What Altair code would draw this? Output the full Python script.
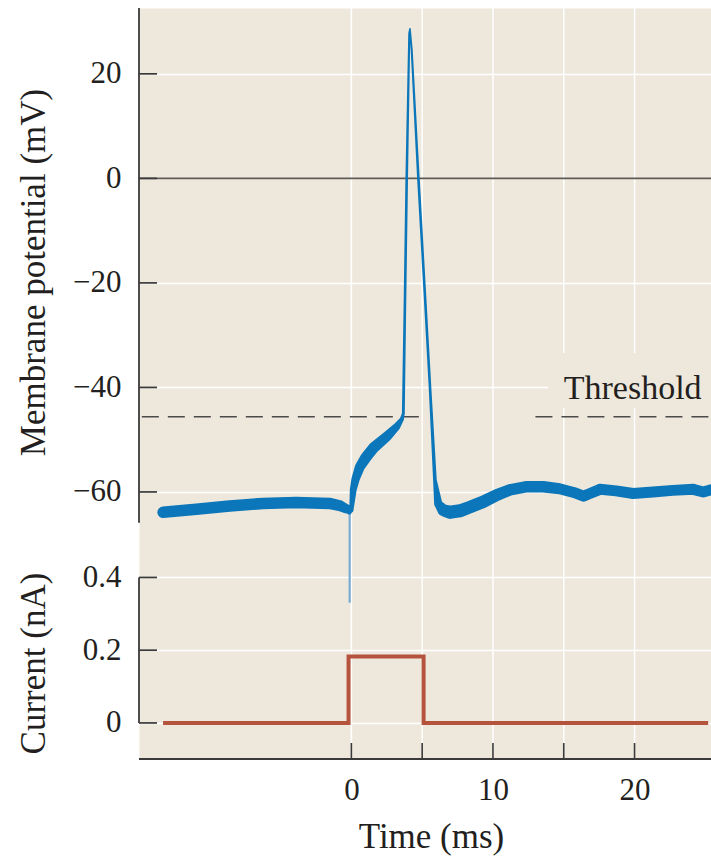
import altair as alt
import pandas as pd

# ---------------- data ----------------
# Membrane potential: time (ms), potential (mV), spread of superimposed sweeps (mV)
trace_t = [-13.3, -10.95, -8.6, -6.25, -3.9, -1.55, -0.84, -0.37, -0.15, 0.0,
           0.13, 0.3, 0.6, 1.0, 1.55, 2.5, 3.2, 3.56, 3.67,
           3.79, 3.91, 4.09, 4.14, 4.26, 4.73, 5.2, 5.55, 5.9,
           6.14, 6.5, 6.96, 7.67, 8.37, 9.3, 10.26, 11.2, 12.4, 13.55, 14.7, 15.7,
           16.4, 16.85, 17.56, 18.7, 19.9, 21.3, 22.7, 24.15, 24.85, 25.4]
trace_mv = [-63.9, -63.3, -62.7, -62.2, -62.0, -62.2, -62.6, -63.2, -63.8, -63.5,
            -59.6, -57.5, -55.2, -53.5, -51.6, -49.4, -47.5, -46.1, -45.0,
            -22.6, 0.2, 27.8, 28.6, 24.6, 0.2, -22.6, -39.8, -57.7,
            -62.3, -63.5, -63.9, -63.6, -62.9, -61.9, -60.6, -59.6, -59.0, -59.0, -59.4, -60.1,
            -60.8, -60.3, -59.5, -59.8, -60.3, -60.0, -59.7, -59.5, -60.0, -59.6]
trace_spread = [2.2, 2.2, 2.2, 2.2, 2.2, 2.2, 2.1, 1.8, 1.0, 0.8,
                1.3, 1.6, 1.9, 2.1, 2.1, 1.9, 1.4, 0.8, 0.55,
                0.5, 0.5, 0.4, 0.3, 0.4, 0.5, 0.5, 0.5, 0.7,
                1.6, 2.3, 2.5, 2.5, 2.4, 2.4, 2.3, 2.2, 2.2, 2.2, 2.1, 2.1,
                2.1, 2.1, 2.1, 2.1, 2.1, 2.1, 2.1, 2.1, 2.1, 2.1]

# stimulus artifact
artifact_t = [-0.12, -0.12]
artifact_mv = [-63.0, -81.2]

# injected current (nA)
current_t = [-13.3, -0.2, 5.1, 25.2]
current_na = [0.0, 0.183, 0.0, 0.0]

# threshold
threshold_mv = [-45.6, -45.6]
threshold_t0 = [-14.8, 13.0]
threshold_t1 = [5.3, 25.4]
label_text = ["Threshold"]
label_t = [15.0]
label_mv = [-42.2]
label_box_t = [13.9, 25.4]
label_box_mv = [-43.9, -33.4]

# ticks / domains
mv_ticks = [20, 0, -20, -40, -60]
na_ticks = [0, 0.2, 0.4]
time_ticks = [0, 5, 10, 15, 20]
time_labels = [0, 10, 20]
T_DOMAIN = [-15, 25.4]
MV_DOMAIN = [-111.1, 32.6]
MV_AXIS_SPAN = [-65.9, 32.6]
NA_AXIS_SPAN = [0, 0.4]
# the current panel shares the vertical scale: 0 nA sits at -104.2 (mV units), 1 nA spans 69.6
NA_ZERO = -104.2
NA_UNIT = 69.6

# ---------------- style ----------------
W, H = 572, 751
TICK_Y_LEN = 18   # inward tick length on the left axes (px)
TICK_X_LEN = 16   # inward tick length on the time axis (px)
TICK_W = 1.7      # tick thickness (px)
BEIGE = "#EEE8DC"
BLUE = "#0B76B9"
LIGHT_BLUE = "#78ACD4"
RED = "#B5533D"
AXIS = "#3A3A3A"
TEXT = "#231F20"
FONT = "Liberation Serif"

px_per_ms = W / (T_DOMAIN[1] - T_DOMAIN[0])
px_per_mv = H / (MV_DOMAIN[1] - MV_DOMAIN[0])

x_scale = alt.Scale(domain=T_DOMAIN, nice=False, zero=False)
y_scale = alt.Scale(domain=MV_DOMAIN, nice=False, zero=False)

def na_to_y(v):
    return NA_ZERO + v * NA_UNIT

x_axis = alt.Axis(values=time_labels, orient="bottom", ticks=False, domain=False,
                  grid=False, labelPadding=16.5, labelFlush=False,
                  title="Time (ms)", titleX=292, titleY=88, titleAlign="center",
                  titleBaseline="alphabetic")
mv_axis = alt.Axis(values=mv_ticks, orient="left", ticks=False, domain=False,
                   grid=True, labelPadding=18, format="d",
                   title="Membrane potential (mV)", titleX=-95, titleY=264,
                   titleAlign="center", titleBaseline="alphabetic", titleAngle=270)
na_axis = alt.Axis(values=[na_to_y(v) for v in na_ticks], orient="left", ticks=False,
                   domain=False, grid=True, labelPadding=18,
                   labelExpr=f"format((datum.value - ({NA_ZERO})) / {NA_UNIT}, '~g')",
                   title="Current (nA)", titleX=-95, titleY=655,
                   titleAlign="center", titleBaseline="alphabetic", titleAngle=270)

trace_df = pd.DataFrame({"t": trace_t, "mv": trace_mv, "spread": trace_spread})
artifact_df = pd.DataFrame({"t": artifact_t, "mv": artifact_mv})
current_df = pd.DataFrame({"t": current_t, "na": current_na})
thr_df = pd.DataFrame({"t0": threshold_t0, "t1": threshold_t1, "mv": threshold_mv})
label_df = pd.DataFrame({"t": label_t, "mv": label_mv, "text": label_text})
box_df = pd.DataFrame({"t0": [label_box_t[0]], "t1": [label_box_t[1]],
                       "m0": [label_box_mv[0]], "m1": [label_box_mv[1]]})
zero_df = pd.DataFrame({"mv": [0]})
vgrid_df = pd.DataFrame({"t": time_ticks})

# left-axis inward ticks, drawn as thin bars
ytick_vals = mv_ticks + [na_to_y(v) for v in na_ticks]
half = TICK_W / 2 / px_per_mv
ytick_df = pd.DataFrame({
    "a": [T_DOMAIN[0]] * len(ytick_vals),
    "b": [T_DOMAIN[0] + TICK_Y_LEN / px_per_ms] * len(ytick_vals),
    "lo": [v - half for v in ytick_vals],
    "hi": [v + half for v in ytick_vals]})
xtick_df = pd.DataFrame({"t": time_ticks,
                         "y0": [MV_DOMAIN[0]] * len(time_ticks),
                         "y1": [MV_DOMAIN[0] + TICK_X_LEN / px_per_mv] * len(time_ticks)})
yline_df = pd.DataFrame({"t": [T_DOMAIN[0]] * 2,
                         "lo": [MV_AXIS_SPAN[0], na_to_y(NA_AXIS_SPAN[0])],
                         "hi": [MV_AXIS_SPAN[1], na_to_y(NA_AXIS_SPAN[1])]})
bottom_df = pd.DataFrame({"y": [MV_DOMAIN[0]]})

X = lambda f: alt.X(f, scale=x_scale, axis=None)
Y = lambda f: alt.Y(f, scale=y_scale, axis=None)

# invisible layers that carry the axes
xaxis_layer = alt.Chart(pd.DataFrame({"t": T_DOMAIN})).mark_point(opacity=0).encode(
    x=alt.X("t:Q", scale=x_scale, axis=x_axis))
mv_axis_layer = alt.Chart(pd.DataFrame({"mv": MV_DOMAIN})).mark_point(opacity=0).encode(
    y=alt.Y("mv:Q", scale=y_scale, axis=mv_axis))
na_axis_layer = alt.Chart(pd.DataFrame({"y": MV_DOMAIN})).mark_point(opacity=0).encode(
    y=alt.Y("y:Q", scale=y_scale, axis=na_axis))

vgrid = alt.Chart(vgrid_df).mark_rule(color="white", strokeWidth=1.5).encode(x=X("t:Q"))
x_ticks = alt.Chart(xtick_df).mark_rule(color=AXIS, strokeWidth=1.6).encode(
    x=X("t:Q"), y=Y("y0:Q"), y2="y1:Q")
y_ticks = alt.Chart(ytick_df).mark_rect(color=AXIS, opacity=1).encode(
    x=X("a:Q"), x2="b:Q", y=Y("lo:Q"), y2="hi:Q")

box = alt.Chart(box_df).mark_rect(fill=BEIGE).encode(
    x=X("t0:Q"), x2="t1:Q", y=Y("m0:Q"), y2="m1:Q")
zero = alt.Chart(zero_df).mark_rule(color="#5D5955", strokeWidth=1.8).encode(y=Y("mv:Q"))
thr = alt.Chart(thr_df).mark_rule(color="#4A4A4A", strokeWidth=1.6, strokeDash=[17, 9]).encode(
    x=X("t0:Q"), x2="t1:Q", y=Y("mv:Q"))
artifact = alt.Chart(artifact_df).mark_line(color=LIGHT_BLUE, strokeWidth=2.2).encode(
    x=X("t:Q"), y=Y("mv:Q"))
trail = alt.Chart(trace_df).mark_trail(color=BLUE).encode(
    x=X("t:Q"), y=Y("mv:Q"),
    size=alt.Size("spread:Q", scale=alt.Scale(domain=[0, 2.2], range=[0, 11.5]), legend=None))
label = alt.Chart(label_df).mark_text(align="left", baseline="alphabetic", font=FONT,
                                      fontSize=34, color=TEXT).encode(
    x=X("t:Q"), y=Y("mv:Q"), text="text:N")
ylines = alt.Chart(yline_df).mark_rule(color=AXIS, strokeWidth=1.8).encode(
    x=X("t:Q"), y=Y("lo:Q"), y2="hi:Q")

cur = alt.Chart(current_df).transform_calculate(
    y=f"{NA_ZERO} + datum.na * {NA_UNIT}"
).mark_line(interpolate="step-after", color=RED, strokeWidth=4,
            strokeJoin="miter", strokeCap="butt").encode(x=X("t:Q"), y=Y("y:Q"))
bottom = alt.Chart(bottom_df).mark_rule(color=AXIS, strokeWidth=1.8).encode(y=Y("y:Q"))

chart = alt.layer(
    xaxis_layer, mv_axis_layer, na_axis_layer, vgrid, x_ticks,
    box, zero, thr, artifact, trail, label, ylines, cur, bottom, y_ticks,
).resolve_axis(x="independent", y="independent").properties(
    width=W, height=H,
    autosize=alt.AutoSizeParams(type="none"),
    padding={"left": 139, "top": 8, "right": 0, "bottom": 97},
    background="white",
).configure_view(fill=BEIGE, stroke="transparent").configure_axis(
    gridColor="white", gridWidth=1.5, gridOpacity=1,
    labelFont=FONT, labelFontSize=31, labelColor=TEXT,
    titleFont=FONT, titleFontSize=35, titleFontWeight="normal", titleColor=TEXT,
    labelOverlap=False,
)

chart.save("out.html", embed_options={"renderer": "svg", "actions": False})
